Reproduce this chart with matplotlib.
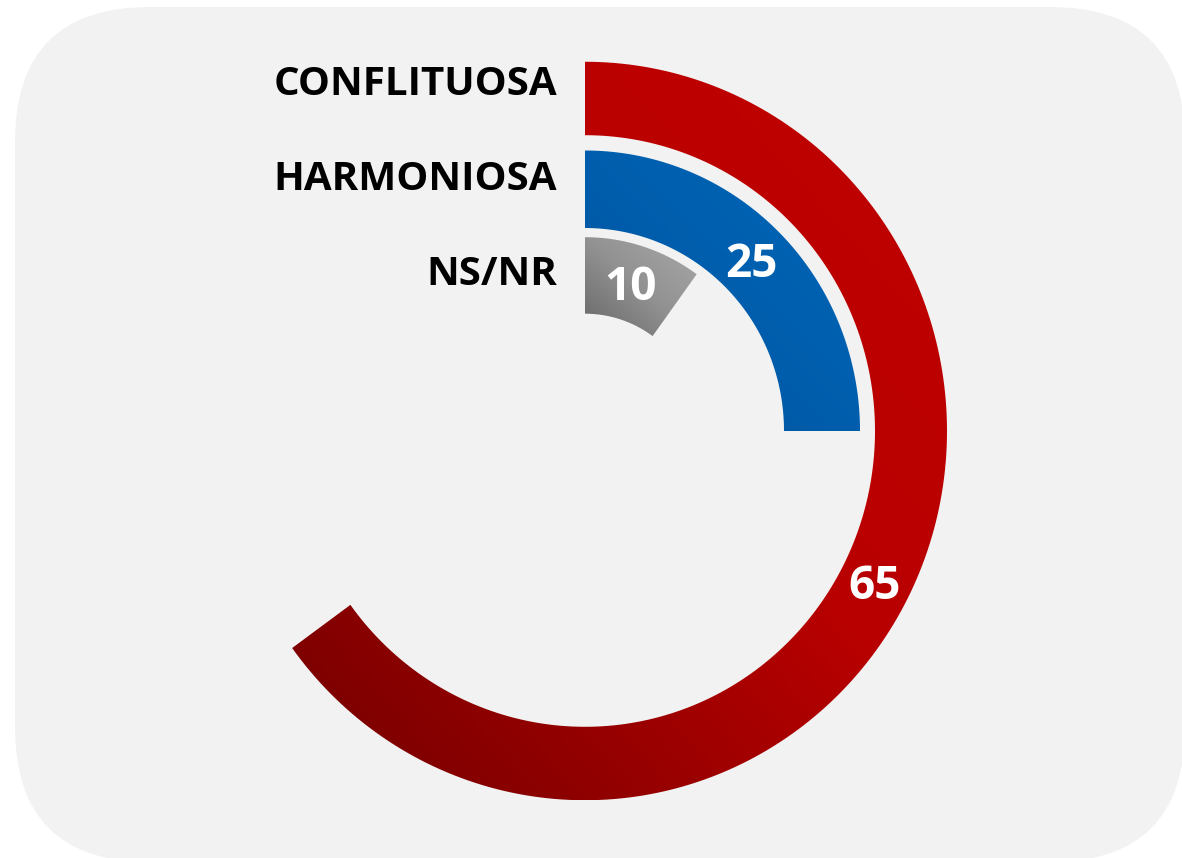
import numpy as np
import matplotlib.pyplot as plt
from matplotlib.patches import FancyBboxPatch
from matplotlib.colors import LinearSegmentedColormap

plt.rcParams['font.family'] = ['Open Sans', 'DejaVu Sans']

categories = ['CONFLITUOSA', 'HARMONIOSA', 'NS/NR']
values = [65, 25, 10]
total = 100

# ring radii in pixels (inner, outer)
rings = [(290, 362), (199, 275), (115, 190)]
gradients = [
    [(0.0, '#730000'), (0.23, '#900000'), (0.55, '#B90000'), (1.0, '#C00000')],
    [(0.0, '#004C94'), (0.45, '#005DAC'), (1.0, '#0066B8')],
    [(0.0, '#666666'), (0.5, '#929292'), (1.0, '#A8A8A8')],
]
label_base = [95, 190, 285]

W, H = 1182, 858
fig = plt.figure(figsize=(W / 100, H / 100), dpi=100)
fig.patch.set_facecolor('white')

bg = fig.add_axes([0, 0, 1, 1])
bg.set_xlim(0, W)
bg.set_ylim(0, H)
bg.axis('off')
bg.add_patch(FancyBboxPatch((15, -4), 1170, 855,
                            boxstyle='round,pad=0,rounding_size=135',
                            fc='#F2F2F2', ec='none', zorder=1))

# the source chart is very slightly taller than wide
cx, cy, R, stretch = 585, 858 - 431, 400, 1.02
ax = fig.add_axes([(cx - R) / W, (cy - R * stretch) / H, 2 * R / W, 2 * R * stretch / H],
                  projection='polar')
ax.set_aspect('auto')
ax.set_theta_zero_location('N')
ax.set_theta_direction(-1)
ax.set_ylim(0, R)
ax.axis('off')
ax.patch.set_visible(False)

bars = []
for v, (r0, r1) in zip(values, rings):
    width = v / total * 2 * np.pi
    b = ax.bar(0, r1 - r0, width=width, bottom=r0, align='edge',
               color='none', edgecolor='none')[0]
    bars.append(b)
    ax.annotate(str(v), (width / 2, (r0 + r1) / 2), xytext=(-1, -12),
                textcoords='offset points', color='white', fontsize=33,
                fontweight='bold', ha='center', va='baseline')

fig.canvas.draw()
X, Y = np.meshgrid(np.linspace(0, 1, 300), np.linspace(0, 1, 300))
T = (X + Y) / 2
for b, stops in zip(bars, gradients):
    dpath = b.get_patch_transform().transform_path(b.get_path()).interpolated(200)
    pts = ax.transData.transform(dpath.vertices)
    x0, y0 = pts.min(axis=0)
    x1, y1 = pts.max(axis=0)
    cmap = LinearSegmentedColormap.from_list('g', stops)
    im = bg.imshow(T, cmap=cmap, vmin=0, vmax=1, origin='lower',
                   extent=[x0, x1, y0, y1], aspect='auto',
                   interpolation='bilinear', zorder=2)
    im.set_clip_path(dpath, ax.transData)
bg.set_xlim(0, W)
bg.set_ylim(0, H)

for name, y in zip(categories, label_base):
    bg.text(557, H - y, name, ha='right', va='baseline', fontsize=29,
            fontweight='bold', color='black', zorder=3)

fig.savefig('out.png', dpi=100, facecolor='white')
